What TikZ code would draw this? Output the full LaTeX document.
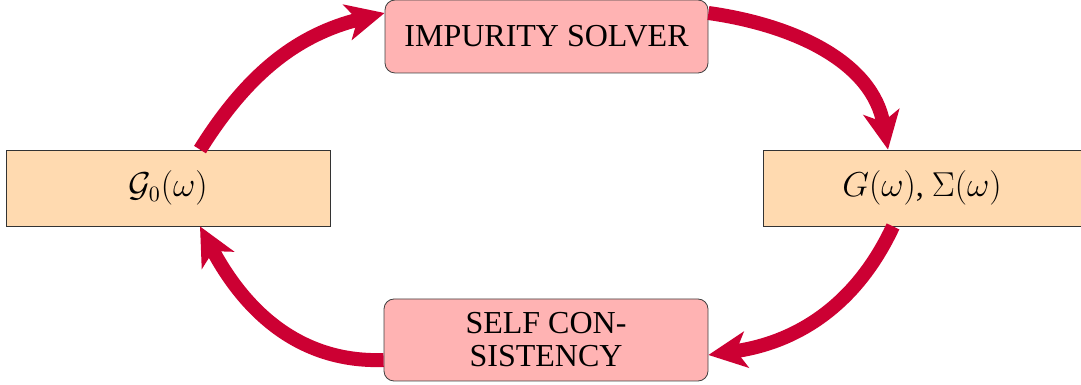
\documentclass[tikz,border=0pt]{standalone}
\usepackage{fontspec}
\setmainfont{Liberation Serif}
\usetikzlibrary{arrows.meta}
\definecolor{loopred}{HTML}{CC0033}
\definecolor{stagefill}{HTML}{FFB3B3}
\definecolor{quantfill}{HTML}{FFDAB0}
\begin{document}
\begin{tikzpicture}[x=0.5pt,y=0.5pt,
  stage/.style={draw=black!75,fill=stagefill,rounded corners=5pt,inner sep=0pt,
    minimum width=161.5pt,align=center,font=\fontsize{16}{17.5}\selectfont},
  quantity/.style={draw=black!80,fill=quantfill,inner sep=0pt,minimum width=162pt,
    minimum height=38pt,font=\fontsize{16}{18}\selectfont},
  flow/.style={draw=loopred,line width=7pt,
    -{Stealth[length=19pt,width=18pt,inset=5pt]}}]
\useasboundingbox (0,0) rectangle (1081,385);
% the two solver stages
\node[stage,minimum height=36.5pt] (solver) at (546.5,348.5) {IMPURITY\ SOLVER};
\node[stage,minimum height=41pt,minimum width=162pt] (selfc) at (546,45)
  {SELF CON-\\[-1pt]SISTENCY};
% the quantities passed between them
\node[quantity] (g0) at (168,197) {$\mathcal{G}_0(\omega)$};
\node[quantity,minimum width=159pt] (gs) at (922,197) {$G(\omega)$, $\Sigma(\omega)$};
% the self-consistency loop, clockwise
\draw[flow] ([xshift=16pt]g0.north) to[out=58,in=194] ([yshift=11.75pt]solver.west);
\draw[flow] ([yshift=11.75pt]solver.east) to[out=-8,in=100] ([xshift=-17pt]gs.north);
\draw[flow] ([xshift=-14.5pt]gs.south) to[out=-115,in=8] ([yshift=-7.5pt]selfc.east);
\draw[flow] ([yshift=-10pt]selfc.west) to[out=182,in=-62] ([xshift=16pt]g0.south);
\end{tikzpicture}
\end{document}
